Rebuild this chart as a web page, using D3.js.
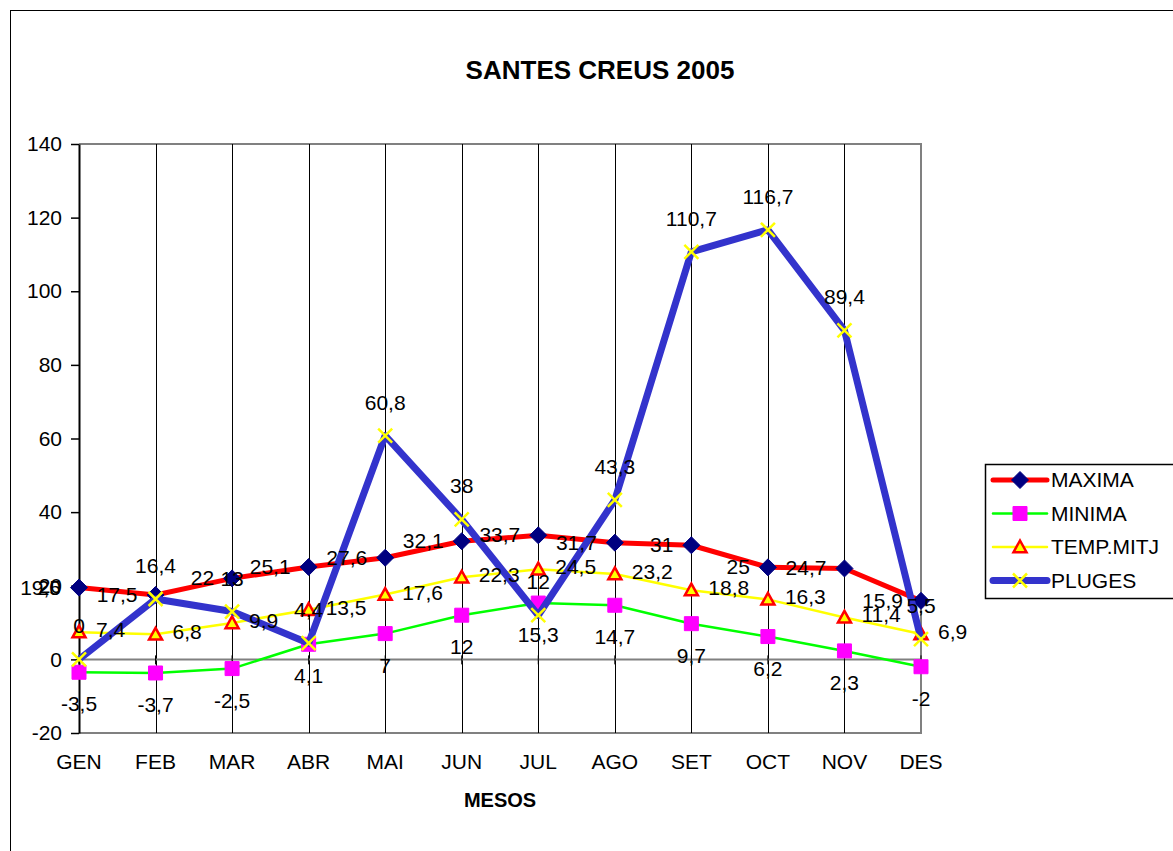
<!DOCTYPE html>
<html lang="ca">
<head>
  <meta charset="UTF-8">
  <title>Santes Creus 2005</title>
  <script src="https://d3js.org/d3.v7.min.js"></script>
  <style>
    body { margin: 0; background: #fff; }
    text { font-family: Arial, "Liberation Sans", sans-serif; fill: #000; }
  </style>
</head>
<body>
<script>
  // data
  const months  = ["GEN", "FEB", "MAR", "ABR", "MAI", "JUN", "JUL", "AGO", "SET", "OCT", "NOV", "DES"];
  const maxima  = [19.5, 17.5, 22, 25.1, 27.6, 32.1, 33.7, 31.7, 31, 25, 24.7, 15.9];
  const minima  = [-3.5, -3.7, -2.5, 4.1, 7, 12, 15.3, 14.7, 9.7, 6.2, 2.3, -2];
  const tempMitj = [7.4, 6.8, 9.9, 13.5, 17.6, 22.3, 24.5, 23.2, 18.8, 16.3, 11.4, 6.9];
  const pluges  = [0, 16.4, 13, 4.4, 60.8, 38, 12, 43.3, 110.7, 116.7, 89.4, 5.5];
  const yTicks  = [-20, 0, 20, 40, 60, 80, 100, 120, 140];
  // a stray label that sits on top of the GEN maximum label
  const strayLabels = [{ month: "GEN", text: "20" }];

  const width = 1173, height = 851;
  const fs = "21px";

  const svg = d3.select("body").append("svg")
    .attr("width", width)
    .attr("height", height);

  // outer chart frame (runs off the page on right and bottom)
  svg.append("rect")
    .attr("x", 10.5).attr("y", 10.5)
    .attr("width", 1300).attr("height", 1000)
    .attr("fill", "#fff").attr("stroke", "#000").attr("stroke-width", 1);

  const x = d3.scalePoint().domain(months).range([79, 921]);
  const y = d3.scaleLinear().domain([-20, 140]).range([733, 144]);

  // title
  svg.append("text")
    .attr("x", 600).attr("y", 79)
    .attr("text-anchor", "middle")
    .style("font-size", "26px").style("font-weight", "bold")
    .text("SANTES CREUS 2005");

  // plot area border (top, right, bottom)
  svg.append("path")
    .attr("d", `M${x("GEN")},${y(140)}H${x("DES")}V${y(-20)}H${x("GEN")}`)
    .attr("fill", "none").attr("stroke", "#808080").attr("stroke-width", 2);

  // vertical gridlines
  svg.append("g").selectAll("line")
    .data(months.slice(1, -1))
    .join("line")
    .attr("x1", d => Math.round(x(d)) + 0.5).attr("x2", d => Math.round(x(d)) + 0.5)
    .attr("y1", y(140)).attr("y2", y(-20))
    .attr("stroke", "#000").attr("stroke-width", 1);

  // category axis crossing at 0
  svg.append("line")
    .attr("x1", x("GEN")).attr("x2", x("DES"))
    .attr("y1", y(0)).attr("y2", y(0))
    .attr("stroke", "#808080").attr("stroke-width", 2);

  svg.append("g").selectAll("line")
    .data(months)
    .join("line")
    .attr("x1", d => x(d)).attr("x2", d => x(d))
    .attr("y1", y(0) - 4).attr("y2", y(0) + 5)
    .attr("stroke", "#000").attr("stroke-width", 1);

  // y axis
  const yAxis = svg.append("g")
    .attr("transform", `translate(${x("GEN")},0)`)
    .call(d3.axisLeft(y).tickValues(yTicks).tickFormat(d => String(d))
      .tickSize(8).tickPadding(9).tickSizeOuter(0));
  yAxis.select(".domain").attr("stroke", "#000").attr("stroke-width", 2);
  yAxis.selectAll(".tick line").attr("stroke", "#000").attr("stroke-width", 1.5);
  yAxis.selectAll(".tick text")
    .style("font-size", fs)
    .style("font-family", "Arial, 'Liberation Sans', sans-serif")
    .attr("fill", "#000");

  // category labels at the bottom
  svg.append("g").selectAll("text")
    .data(months)
    .join("text")
    .attr("x", d => x(d)).attr("y", 769)
    .attr("text-anchor", "middle")
    .style("font-size", fs)
    .text(d => d);

  svg.append("text")
    .attr("x", 500).attr("y", 807)
    .attr("text-anchor", "middle")
    .style("font-size", "20px").style("font-weight", "bold")
    .text("MESOS");

  // marker shapes
  const diamond = s => `M0,${-s}L${s},0L0,${s}L${-s},0Z`;
  const square = s => `M${-s},${-s}H${s}V${s}H${-s}Z`;
  const triangle = s => `M0,${-s}L${s},${s * 0.8}L${-s},${s * 0.8}Z`;
  const cross = s => `M${-s},${-s}L${s},${s}M${-s},${s}L${s},${-s}`;

  const series = [
    { name: "MAXIMA", values: maxima, color: "#ff0000", width: 5,
      marker: diamond(8.5), mFill: "#000080", mStroke: "#000080", mWidth: 1,
      label: { dx: -18, dy: 7, anchor: "end" } },
    { name: "MINIMA", values: minima, color: "#00ff00", width: 2.5,
      marker: square(7), mFill: "#ff00ff", mStroke: "#ff00ff", mWidth: 1,
      label: { dx: 0, dy: 39, anchor: "middle" } },
    { name: "TEMP.MITJ", values: tempMitj, color: "#ffff00", width: 2.5,
      marker: triangle(6.5), mFill: "#ffff00", mStroke: "#ff0000", mWidth: 2.5,
      label: { dx: 17, dy: 5, anchor: "start" } },
    { name: "PLUGES", values: pluges, color: "#3333cc", width: 7,
      marker: cross(7), mFill: "none", mStroke: "#ffff00", mWidth: 2.5,
      label: { dx: 0, dy: -26, anchor: "middle" } }
  ];

  const line = d3.line()
    .x((d, i) => x(months[i]))
    .y(d => y(d));

  const fmt = v => String(v).replace(".", ",");

  series.forEach(s => {
    const g = svg.append("g");
    g.append("path")
      .datum(s.values)
      .attr("d", line)
      .attr("fill", "none")
      .attr("stroke", s.color)
      .attr("stroke-width", s.width)
      .attr("stroke-linejoin", "round");
    g.selectAll("path.mk")
      .data(s.values)
      .join("path")
      .attr("class", "mk")
      .attr("transform", (d, i) => `translate(${x(months[i])},${y(d)})`)
      .attr("d", s.marker)
      .attr("fill", s.mFill)
      .attr("stroke", s.mStroke)
      .attr("stroke-width", s.mWidth);
  });

  // data labels drawn after all lines
  series.forEach(s => {
    svg.append("g").selectAll("text")
      .data(s.values)
      .join("text")
      .attr("x", (d, i) => x(months[i]) + s.label.dx)
      .attr("y", d => y(d) + s.label.dy)
      .attr("text-anchor", s.label.anchor)
      .style("font-size", fs)
      .text(d => fmt(d));
  });

  svg.append("g").selectAll("text")
    .data(strayLabels)
    .join("text")
    .attr("x", d => x(d.month) + series[0].label.dx)
    .attr("y", d => y(maxima[months.indexOf(d.month)]) + series[0].label.dy)
    .attr("text-anchor", "end")
    .style("font-size", fs)
    .text(d => d.text);

  // legend
  const legend = svg.append("g").attr("transform", "translate(985,464)");
  legend.append("rect")
    .attr("x", 0.5).attr("y", 0.5)
    .attr("width", 300).attr("height", 134)
    .attr("fill", "#fff").attr("stroke", "#000").attr("stroke-width", 1.5);

  const items = legend.selectAll("g.item")
    .data(series)
    .join("g")
    .attr("class", "item")
    .attr("transform", (d, i) => `translate(0,${16 + i * 33.5})`);

  items.append("line")
    .attr("x1", 8).attr("x2", 62)
    .attr("stroke", d => d.color)
    .attr("stroke-width", d => d.width)
    .attr("stroke-linecap", "round");
  items.append("path")
    .attr("transform", "translate(35,0)")
    .attr("d", d => d.marker)
    .attr("fill", d => d.mFill)
    .attr("stroke", d => d.mStroke)
    .attr("stroke-width", d => d.mWidth);
  items.append("text")
    .attr("x", 66).attr("y", 7)
    .style("font-size", fs)
    .text(d => d.name);
</script>
</body>
</html>
